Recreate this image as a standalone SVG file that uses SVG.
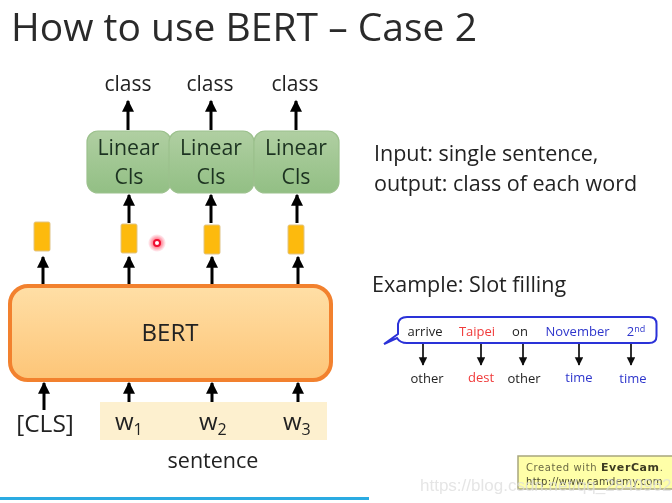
<svg xmlns="http://www.w3.org/2000/svg" width="672" height="503" viewBox="0 0 672 503">
<defs>
<marker id="a" markerWidth="5" markerHeight="5" refX="3.6" refY="2" orient="auto" markerUnits="strokeWidth"><path d="M0,0L4,2L0,4z" fill="#000"/></marker>
<marker id="b" markerWidth="6" markerHeight="6" refX="4.5" refY="2.5" orient="auto" markerUnits="strokeWidth"><path d="M0,0L5,2.5L0,5z" fill="#111"/></marker>
<linearGradient id="g" x1="0" y1="0" x2="0" y2="1"><stop offset="0" stop-color="#b0cfa2"/><stop offset="1" stop-color="#92bf84"/></linearGradient>
<linearGradient id="o" x1="0" y1="0" x2="0" y2="1"><stop offset="0" stop-color="#ffdfa6"/><stop offset="1" stop-color="#fdc577"/></linearGradient>
<radialGradient id="r"><stop offset="0.4" stop-color="#ff2040" stop-opacity="0.6"/><stop offset="1" stop-color="#ff2040" stop-opacity="0"/></radialGradient>
<filter id="soft" x="0" y="0" width="100%" height="100%"><feGaussianBlur stdDeviation="0.35"/></filter>
</defs>
<style>
text{font-family:"Open Sans","Noto Sans","Liberation Sans",sans-serif;fill:#222}
.c{text-anchor:middle}
.m{font-size:21px}
.b{font-size:21.5px}
.l{font-size:21.3px;fill:#1d3320}
.s{font-size:13px}
.v{stroke:#000;stroke-width:3;fill:none;marker-end:url(#a)}
.t{stroke:#111;stroke-width:1.7;fill:none;marker-end:url(#b)}
.box{fill:url(#g);stroke:#9cc18d;stroke-width:1.2}
.y{fill:#fdba0c;stroke:#e0c488;stroke-width:1}
.sup{font-size:9px}
</style>
<rect width="672" height="503" fill="#fff"/>
<g filter="url(#soft)">
<text x="11" y="41" font-size="39" style="fill:#2b2b2b">How to use BERT – Case 2</text>

<g id="connectors">
<path class="v" d="M128,130V101"/><path class="v" d="M211,130V101"/><path class="v" d="M296,130V101"/>
<path class="v" d="M129,223V195"/><path class="v" d="M211,223V195"/><path class="v" d="M297,223V195"/>
<path class="v" d="M43,285V257"/><path class="v" d="M129,285V257"/><path class="v" d="M212,285V257"/><path class="v" d="M298,285V257"/>
<path class="v" d="M44,410V383"/><path class="v" d="M129,410V383"/><path class="v" d="M212,410V383"/><path class="v" d="M298,410V383"/>
<path class="t" d="M423,344V365"/><path class="t" d="M481,344V365"/><path class="t" d="M523,344V365"/><path class="t" d="M579,344V365"/><path class="t" d="M631,344V365"/>
</g>

<g id="class1"><text class="c m" x="128" y="91">class</text></g>
<g id="class2"><text class="c m" x="210" y="91">class</text></g>
<g id="class3"><text class="c m" x="295" y="91">class</text></g>

<g id="cls1"><rect class="box" x="87" y="131" width="84" height="62" rx="11"/><text class="c l" x="128.500" y="155">Linear</text><text class="c l" x="129" y="184">Cls</text></g>
<g id="cls2"><rect class="box" x="169" y="131" width="85" height="62" rx="11"/><text class="c l" x="211" y="155">Linear</text><text class="c l" x="211" y="184">Cls</text></g>
<g id="cls3"><rect class="box" x="254" y="131" width="85" height="62" rx="11"/><text class="c l" x="296" y="155">Linear</text><text class="c l" x="296" y="184">Cls</text></g>

<g id="vec0"><rect class="y" x="34" y="222" width="16" height="29" rx="1.5"/></g>
<g id="vec1"><rect class="y" x="121" y="224" width="16" height="29" rx="1.5"/></g>
<g id="vec2"><rect class="y" x="204" y="225" width="16" height="29" rx="1.5"/></g>
<g id="vec3"><rect class="y" x="288" y="225" width="16" height="29" rx="1.5"/></g>

<circle cx="157" cy="243" r="9" fill="url(#r)"/>
<circle cx="157" cy="243" r="3" fill="#fff" stroke="#f01030" stroke-width="2"/>

<g id="bert"><rect x="10" y="286" width="321" height="94" rx="18" fill="url(#o)" stroke="#f2812f" stroke-width="4"/><text class="c" x="170" y="341" font-size="24">BERT</text></g>

<rect x="100" y="402" width="227" height="38" fill="#fdf0cf"/>
<g id="cls-token"><text class="c" x="45" y="432" font-size="24.500">[CLS]</text></g>
<g id="w1"><text x="115" y="430" font-size="24">w<tspan font-size="16" dy="5">1</tspan></text></g>
<g id="w2"><text x="199" y="430" font-size="24">w<tspan font-size="16" dy="5">2</tspan></text></g>
<g id="w3"><text x="283" y="430" font-size="24">w<tspan font-size="16" dy="5">3</tspan></text></g>
<text class="c b" x="213" y="468">sentence</text>

<text class="b" x="374" y="161">Input: single sentence,</text>
<text class="b" x="374" y="191">output: class of each word</text>
<text class="b" x="372" y="292">Example: Slot filling</text>

<g id="slot">
<path d="M407,317H649Q656.500,317 656.500,324V336Q656.500,343 649,343H407Q400,343 397,338L384,344L398,334V324Q399,317 407,317Z" fill="#fff" stroke="#2b30d8" stroke-width="2"/>
<text class="c s" x="425" y="336">arrive</text>
<text class="c s" x="477" y="336" style="fill:#f03a3a">Taipei</text>
<text class="c s" x="520" y="336">on</text>
<text class="c s" x="577.500" y="336" style="fill:#2e36cc">November</text>
<text class="c s" x="636" y="336" style="fill:#2e36cc">2<tspan class="sup" dy="-4">nd</tspan></text>
<text class="c s" x="427" y="383">other</text>
<text class="c s" x="481" y="382" style="fill:#f03a3a">dest</text>
<text class="c s" x="524" y="383">other</text>
<text class="c s" x="579" y="382" style="fill:#2e36cc">time</text>
<text class="c s" x="633" y="383" style="fill:#2e36cc">time</text>
</g>

<rect x="0" y="497" width="369" height="3" fill="#29abe2"/>

<rect x="518" y="456" width="160" height="33" fill="#ffffa8" stroke="#a8a67e" stroke-width="1.5"/>
<text x="526" y="471" font-size="10" letter-spacing="0.6" style="fill:#6b6a45;font-family:'DejaVu Sans',sans-serif">Created with <tspan font-weight="bold" style="fill:#3d3b22" font-size="11">EverCam</tspan>.</text>
<text x="526" y="485" font-size="10" letter-spacing="0.3" style="fill:#4a4930;font-family:'DejaVu Sans',sans-serif">http://www.camdemy.com</text>
<text x="420" y="491" font-size="17" style="fill:#dcdcdc;fill-opacity:.75;font-family:'Liberation Sans',sans-serif">https://blog.csdn.net/qq_28409625</text>
</g>
</svg>
